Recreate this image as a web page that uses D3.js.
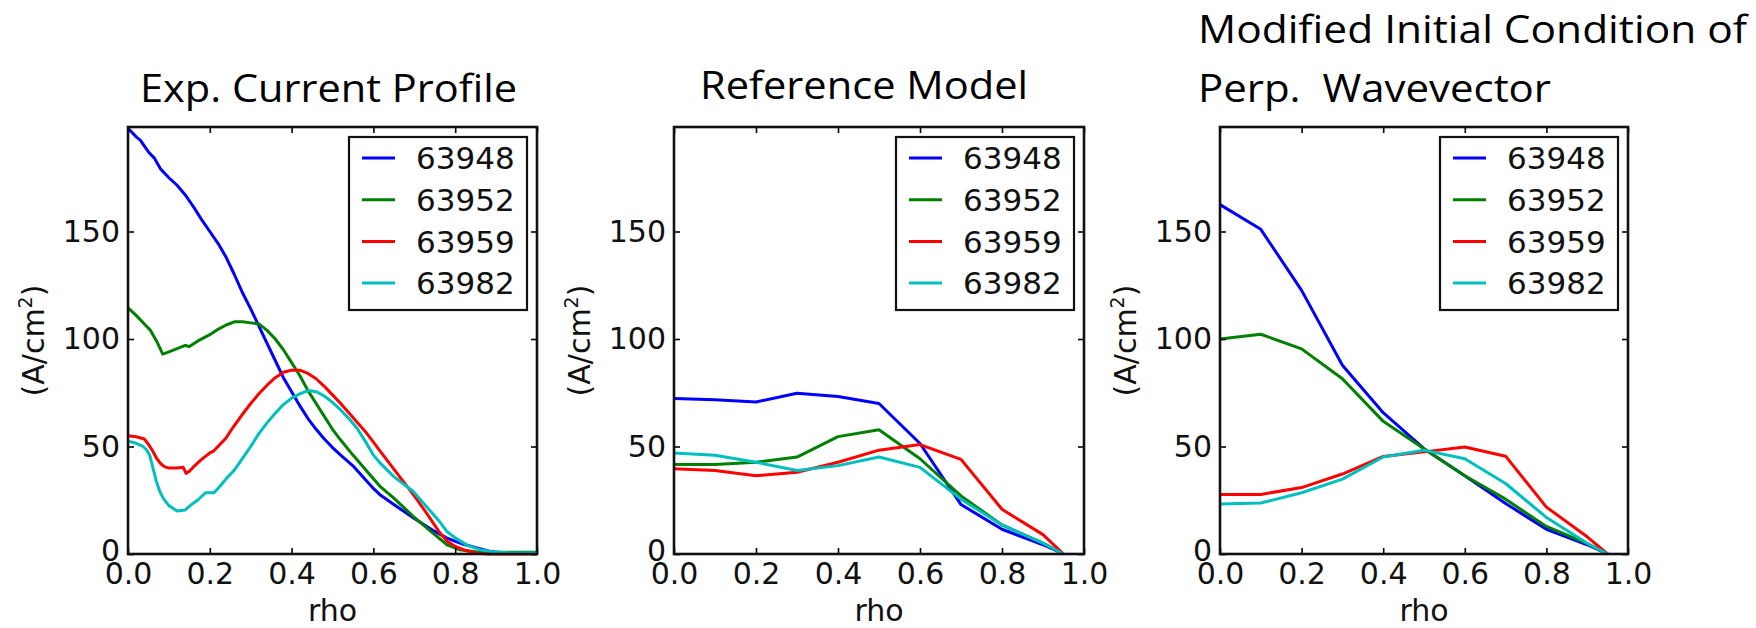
<!DOCTYPE html>
<html>
<head>
<meta charset="utf-8">
<script src="https://cdn.jsdelivr.net/npm/d3@7"></script>
<style>
  html, body { margin: 0; padding: 0; background: #fff; }
  svg { display: block; }
</style>
</head>
<body>
<div id="chart"></div>
<script>
// ── Series metadata ─────────────────────────
const seriesNames  = ["63948", "63952", "63959", "63982"];
const seriesColors = ["#0000ff", "#008000", "#ff0000", "#00bfbf"];
const xTicks = [0, 0.2, 0.4, 0.6, 0.8, 1.0];
const yTicks = [0, 50, 100, 150];
const yMax   = 198.6;

const panelTitles = [
  ["Exp. Current Profile"],
  ["Reference Model"],
  ["Modified Initial Condition of", "Perp.  Wavevector"]
];

// ── Panel 1: experimental profiles [rho, J] ──
const exp63948 = [[0,198],[0.01,196],[0.02,194],[0.03,192.5],[0.05,187],[0.065,184],[0.08,179],[0.10,175],
  [0.12,171.5],[0.14,167],[0.16,161.5],[0.18,155.5],[0.20,150],[0.22,144.5],[0.24,138],[0.26,130],[0.28,121.5],
  [0.30,114],[0.32,106],[0.34,98],[0.36,90],[0.38,82],[0.40,75.5],[0.42,69],[0.44,63],[0.46,58],[0.48,53.5],
  [0.50,49.5],[0.52,46],[0.55,41],[0.60,30.5],[0.616,27.6],[0.65,23],[0.70,16.5],[0.75,10.5],[0.78,7.4],
  [0.82,4.5],[0.86,2.5],[0.89,1],[0.92,0.5],[1.0,0.3]];
const exp63952 = [[0,114.5],[0.02,111],[0.04,107],[0.055,104],[0.07,99],[0.085,93],[0.10,94],[0.12,95.5],
  [0.14,97],[0.15,96.5],[0.17,99],[0.20,102],[0.22,104.5],[0.24,106.5],[0.26,108],[0.28,108],[0.30,107.5],
  [0.32,107],[0.34,104],[0.36,100],[0.38,95],[0.40,89],[0.42,83],[0.44,76],[0.46,70],[0.48,64],[0.50,58],
  [0.52,53],[0.55,46],[0.60,35],[0.616,31.5],[0.65,26],[0.70,17],[0.75,9],[0.78,4.3],[0.81,2],[0.85,1],
  [0.90,0.8],[1.0,0.8]];
const exp63959 = [[0,55],[0.02,54.5],[0.04,53.5],[0.05,51],[0.06,48],[0.07,44.5],[0.08,42],[0.09,40.5],
  [0.10,40],[0.12,40],[0.135,40.3],[0.142,37.5],[0.15,38.5],[0.16,40.5],[0.18,44],[0.20,47],[0.21,48],
  [0.22,50],[0.24,54],[0.256,58.7],[0.28,65],[0.30,70],[0.32,74.5],[0.34,78.5],[0.36,82],[0.38,84.5],
  [0.40,85.5],[0.42,85.5],[0.44,84],[0.46,81.5],[0.48,78],[0.50,74],[0.52,70],[0.55,63.5],[0.58,57],
  [0.60,52],[0.616,48],[0.65,39.5],[0.68,32],[0.70,27],[0.73,19],[0.76,10.5],[0.78,6],[0.80,3.5],
  [0.82,2],[0.85,0.5],[0.88,0],[1.0,0]];
const exp63982 = [[0,52.5],[0.02,51.5],[0.037,50],[0.045,48.5],[0.053,46],[0.061,40],[0.069,34],[0.078,29],
  [0.086,26],[0.10,22.5],[0.12,20],[0.14,20.5],[0.155,23],[0.17,25],[0.19,28.5],[0.21,28.5],[0.225,31.5],
  [0.24,35],[0.26,39],[0.28,44.5],[0.30,50],[0.32,56],[0.34,61],[0.36,65.5],[0.38,69.5],[0.40,72.5],
  [0.42,74.5],[0.44,76],[0.46,75.5],[0.48,73.5],[0.50,70.5],[0.52,67],[0.54,63],[0.56,58.5],[0.58,52.5],
  [0.60,46],[0.616,42.4],[0.65,36],[0.697,29.2],[0.73,22],[0.76,15.5],[0.779,10.6],[0.80,7.5],[0.83,4],
  [0.86,2],[0.89,1],[0.93,0.6],[1.0,0.5]];

// ── Panels 2 & 3: model grid ─────────────────
const rhoModel = [0, 0.1, 0.2, 0.3, 0.4, 0.5, 0.6, 0.7, 0.8, 0.9, 0.95];

const ref63948 = [72.3, 71.7, 70.7, 74.8, 73.3, 70, 51.4, 23, 11.5, 4.3, 0];
const ref63952 = [41.6, 41.6, 42.7, 45.1, 54.6, 57.8, 44.3, 27, 13.5, 5.1, 0];
const ref63959 = [39.6, 38.8, 36.4, 38, 42.7, 48.3, 50.9, 44, 20.8, 9, 0];
const ref63982 = [47, 45.9, 42.7, 38.8, 41.1, 45.1, 40.3, 25.5, 13.5, 5, 0];

const mod63948 = [162.5, 151, 122.6, 87.8, 65.7, 49, 36.4, 23.5, 11.5, 4.3, 0];
const mod63952 = [100, 102.2, 95.4, 81.5, 61.7, 49, 36.4, 25.5, 12.8, 4.8, 0];
const mod63959 = [27.7, 27.7, 30.9, 37.2, 45.4, 47.5, 49.8, 45.5, 21.8, 8, 0];
const mod63982 = [23.3, 23.7, 28.5, 34.8, 45.1, 48.3, 44.3, 32.8, 17, 5, 0];

const zipRho = vals => vals.map((v, i) => [rhoModel[i], v]);

// ── Layout ──────────────────────────────────
const W = 1756, H = 628;
const TOP = 127, BOTTOM = 554;
const TICK_FONT = "'DejaVu Sans', sans-serif";

const panels = [
  { x0: 128,  x1: 537,  title: panelTitles[0], titleX: 140,  titleY: [102], titleLen: [377],
    series: [exp63948, exp63952, exp63959, exp63982] },
  { x0: 674,  x1: 1084, title: panelTitles[1], titleX: 700,  titleY: [99],  titleLen: [328],
    series: [ref63948, ref63952, ref63959, ref63982].map(zipRho) },
  { x0: 1220, x1: 1628, title: panelTitles[2], titleX: 1198, titleY: [43, 102], titleLen: [549, 353],
    series: [mod63948, mod63952, mod63959, mod63982].map(zipRho) }
];

const svg = d3.select("#chart").append("svg")
  .attr("width", W).attr("height", H)
  .attr("viewBox", `0 0 ${W} ${H}`);
svg.append("rect").attr("width", W).attr("height", H).attr("fill", "#fff");

const yScale = d3.scaleLinear().domain([0, yMax]).range([BOTTOM, TOP]);

panels.forEach(p => {
  const xScale = d3.scaleLinear().domain([0, 1]).range([p.x0, p.x1]);
  const g = svg.append("g");

  // Title(s)
  p.title.forEach((t, i) => {
    g.append("text")
      .attr("x", p.titleX).attr("y", p.titleY[i])
      .attr("font-family", "'Open Sans', sans-serif")
      .attr("font-size", 39).attr("fill", "#000")
      .attr("textLength", p.titleLen[i])
      .attr("lengthAdjust", "spacingAndGlyphs")
      .style("white-space", "pre")
      .text(t);
  });

  // Lines
  const line = d3.line().x(d => xScale(d[0])).y(d => yScale(d[1]));
  p.series.forEach((s, i) => {
    g.append("path").datum(s)
      .attr("d", line)
      .attr("fill", "none")
      .attr("stroke", seriesColors[i])
      .attr("stroke-width", 3)
      .attr("stroke-linejoin", "round");
  });

  // Axes (ticks point inward)
  const styleAxis = sel => {
    sel.select(".domain").remove();
    sel.selectAll(".tick line").attr("stroke", "#000").attr("stroke-width", 1.6);
    sel.selectAll("text").attr("font-family", TICK_FONT).attr("font-size", 30).attr("fill", "#111");
  };
  g.append("g").attr("transform", `translate(0,${BOTTOM})`)
    .call(d3.axisBottom(xScale).tickValues(xTicks).tickFormat(d3.format(".1f"))
      .tickSize(-6).tickPadding(9)).call(styleAxis);
  g.append("g").attr("transform", `translate(0,${TOP})`)
    .call(d3.axisTop(xScale).tickValues(xTicks).tickFormat("").tickSize(-6)).call(styleAxis);
  g.append("g").attr("transform", `translate(${p.x0},0)`)
    .call(d3.axisLeft(yScale).tickValues(yTicks).tickFormat(d3.format("d"))
      .tickSize(-6).tickPadding(8)).call(styleAxis)
    .selectAll(".tick text").filter(d => d === 0).attr("dy", "0.22em");
  g.append("g").attr("transform", `translate(${p.x1},0)`)
    .call(d3.axisRight(yScale).tickValues(yTicks).tickFormat("").tickSize(-6)).call(styleAxis);

  // Frame
  g.append("rect")
    .attr("x", p.x0).attr("y", TOP)
    .attr("width", p.x1 - p.x0).attr("height", BOTTOM - TOP)
    .attr("fill", "none").attr("stroke", "#111").attr("stroke-width", 2.6);

  // Axis labels
  g.append("text")
    .attr("x", (p.x0 + p.x1) / 2).attr("y", 621)
    .attr("text-anchor", "middle")
    .attr("font-family", TICK_FONT).attr("font-size", 30).attr("fill", "#111")
    .text("rho");

  const yl = g.append("text")
    .attr("transform", `translate(${p.x0 - 84},${(TOP + BOTTOM) / 2}) rotate(-90)`)
    .attr("text-anchor", "middle")
    .attr("font-family", TICK_FONT).attr("font-size", 30).attr("fill", "#111");
  yl.append("tspan").text("(A/cm");
  yl.append("tspan").attr("font-size", 19).attr("dy", -12).text("2");
  yl.append("tspan").attr("dy", 12).text(")");

  // Legend
  const lgW = 178, lgH = 173;
  const lgX = p.x1 - 10 - lgW, lgY = TOP + 10;
  const lg = g.append("g").attr("transform", `translate(${lgX},${lgY})`);
  lg.append("rect").attr("width", lgW).attr("height", lgH)
    .attr("fill", "#fff").attr("stroke", "#111").attr("stroke-width", 2.2);
  seriesNames.forEach((name, i) => {
    const cy = 21 + i * 41.7;
    lg.append("line").attr("x1", 13).attr("x2", 46).attr("y1", cy).attr("y2", cy)
      .attr("stroke", seriesColors[i]).attr("stroke-width", 3);
    lg.append("text").attr("x", 67).attr("y", cy).attr("dy", "0.36em")
      .attr("font-family", TICK_FONT).attr("font-size", 31).attr("fill", "#111")
      .text(name);
  });
});
</script>
</body>
</html>
